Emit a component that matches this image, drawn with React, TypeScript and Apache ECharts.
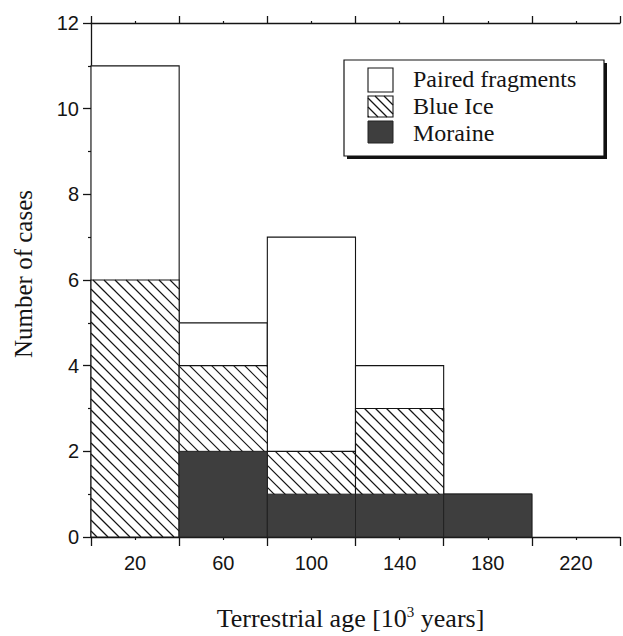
import React, { useEffect, useRef } from "react";
import * as echarts from "echarts";

// ---- data ----
const binStarts = [0, 40, 80, 120, 160, 200];
const binWidth = 40;
const pairedFragments = [11, 5, 7, 4, 1, 0];
const blueIce = [6, 4, 2, 3, 0, 0];
const moraine = [0, 2, 1, 1, 1, 0];
const xLabelValues = [20, 60, 100, 140, 180, 220];
const legendNames = ["Paired fragments", "Blue Ice", "Moraine"];

const SANS = '"Liberation Sans", Arial, Helvetica, sans-serif';
const SERIF = '"Liberation Serif", "Times New Roman", Times, serif';
const INK = "#141414";
const MORAINE_FILL = "#3e3e3e";
const HATCH_SLOPE = 1;

function toBins(values: number[]) {
  return binStarts.map((s, i) => [s, s + binWidth, values[i]]);
}

function hatchLines(xa: number, xb: number, ya: number, yb: number, spacing: number, lw: number) {
  const out: any[] = [];
  const m = HATCH_SLOPE;
  const cMin = ya - m * xb;
  const cMax = yb - m * xa;
  const k0 = Math.ceil(cMin / spacing);
  const k1 = Math.floor(cMax / spacing);
  for (let k = k0; k <= k1; k++) {
    const c = k * spacing;
    const xs = Math.max(xa, (ya - c) / m);
    const xe = Math.min(xb, (yb - c) / m);
    if (xe - xs > 0.5) {
      out.push({
        type: "line",
        shape: { x1: xs, y1: m * xs + c, x2: xe, y2: m * xe + c },
        style: { stroke: INK, lineWidth: lw },
        silent: true,
      });
    }
  }
  return out;
}

function rectOf(api: any) {
  const p0 = api.coord([api.value(0), 0]);
  const p1 = api.coord([api.value(1), api.value(2)]);
  return { x: p0[0], y: p1[1], width: p1[0] - p0[0], height: p0[1] - p1[1] };
}

function makeRender(kind: "plain" | "hatch" | "dark") {
  return (params: any, api: any) => {
    if (!(api.value(2) > 0)) return null;
    const r = rectOf(api);
    const children: any[] = [];
    if (kind === "plain") {
      children.push({ type: "rect", shape: r, style: { fill: "#fff", stroke: INK, lineWidth: 1.1 } });
    } else if (kind === "hatch") {
      children.push({ type: "rect", shape: r, style: { fill: "#fff", stroke: "none" } });
      children.push(...hatchLines(r.x, r.x + r.width, r.y, r.y + r.height, 11, 1.2));
      children.push({ type: "rect", shape: r, style: { fill: "none", stroke: INK, lineWidth: 1.1 } });
    } else {
      children.push({ type: "rect", shape: r, style: { fill: MORAINE_FILL, stroke: "#222", lineWidth: 1 } });
    }
    return { type: "group", children };
  };
}

function legendGraphic() {
  const bx = 344, by = 60, bw = 260, bh = 96;
  const ix = 368, iw = 25;
  const rows = [
    { y: 68, h: 24, cy: 79 },
    { y: 96, h: 21, cy: 106 },
    { y: 121, h: 22, cy: 133 },
  ];
  const els: any[] = [
    { type: "rect", shape: { x: bx + 3, y: by + 3, width: bw, height: bh }, style: { fill: "#111" } },
    { type: "rect", shape: { x: bx, y: by, width: bw, height: bh }, style: { fill: "#fff", stroke: INK, lineWidth: 1.2 } },
    { type: "rect", shape: { x: ix, y: rows[0].y, width: iw, height: rows[0].h }, style: { fill: "#fff", stroke: INK, lineWidth: 1.1 } },
    { type: "rect", shape: { x: ix, y: rows[1].y, width: iw, height: rows[1].h }, style: { fill: "#fff", stroke: "none" } },
    ...hatchLines(ix, ix + iw, rows[1].y, rows[1].y + rows[1].h, 9, 1.2),
    { type: "rect", shape: { x: ix, y: rows[1].y, width: iw, height: rows[1].h }, style: { fill: "none", stroke: INK, lineWidth: 1.1 } },
    { type: "rect", shape: { x: ix, y: rows[2].y, width: iw, height: rows[2].h }, style: { fill: MORAINE_FILL, stroke: "#222", lineWidth: 1 } },
  ];
  legendNames.forEach((name, i) => {
    els.push({
      type: "text",
      x: 413,
      y: rows[i].cy,
      style: {
        text: name,
        fontSize: 24,
        lineHeight: 24,
        fontFamily: SERIF,
        fill: INK,
        textAlign: "left",
        textVerticalAlign: "middle",
        verticalAlign: "middle",
      },
    });
  });
  return els;
}

export default function App() {
  const ref = useRef<HTMLDivElement>(null);
  useEffect(() => {
    if (!ref.current) return;
    const chart = echarts.init(ref.current, null, { renderer: "svg" });
    const axisLineStyle = { color: INK, width: 1.3 };
    const option: any = {
      animation: false,
      backgroundColor: "#fff",
      grid: { left: 91, right: 0, top: 23, bottom: 92, containLabel: false },
      xAxis: [
        {
          type: "value",
          min: 0,
          max: 240,
          interval: 40,
          position: "bottom",
          axisLine: { show: true, onZero: false, lineStyle: axisLineStyle },
          axisTick: { show: true, inside: false, length: 9, lineStyle: axisLineStyle },
          minorTick: { show: true, splitNumber: 2, length: 3, lineStyle: { color: INK, width: 1.2 } },
          axisLabel: { show: false },
          splitLine: { show: false },
          name: "{a|Terrestrial age [10}{s|3}{a| years]}",
          nameLocation: "middle",
          nameGap: 67,
          nameTextStyle: {
            padding: [0, 10, 0, 0],
            rich: {
              a: { fontSize: 26, fontFamily: SERIF, color: INK, lineHeight: 28 },
              s: { fontSize: 15, fontFamily: SERIF, color: INK, verticalAlign: "top", lineHeight: 15 },
            },
          },
        },
        {
          type: "value",
          min: 0,
          max: 240,
          interval: 20,
          position: "bottom",
          axisLine: { show: false },
          axisTick: { show: false },
          axisLabel: {
            show: true,
            margin: 16,
            fontSize: 20,
            fontFamily: SANS,
            color: INK,
            formatter: (v: number) => (xLabelValues.indexOf(v) >= 0 ? String(v) : ""),
          },
          splitLine: { show: false },
        },
        {
          type: "value",
          min: 0,
          max: 240,
          interval: 40,
          position: "top",
          axisLine: { show: true, onZero: false, lineStyle: axisLineStyle },
          axisTick: { show: true, inside: false, length: 7, lineStyle: axisLineStyle },
          minorTick: { show: true, splitNumber: 2, length: 2, lineStyle: { color: INK, width: 1.2 } },
          axisLabel: { show: false },
          splitLine: { show: false },
        },
      ],
      yAxis: {
        type: "value",
        min: 0,
        max: 12,
        interval: 2,
        axisLine: { show: true, onZero: false, lineStyle: axisLineStyle },
        axisTick: { show: true, inside: false, length: 8, lineStyle: axisLineStyle },
        minorTick: { show: true, splitNumber: 2, length: 3, lineStyle: { color: INK, width: 1.2 } },
        axisLabel: { margin: 12, fontSize: 20, fontFamily: SANS, color: INK },
        splitLine: { show: false },
        name: "Number of cases",
        nameLocation: "middle",
        nameGap: 55,
        nameTextStyle: { fontSize: 25, fontFamily: SERIF, color: INK, padding: [0, 0, 0, 12] },
      },
      series: [
        {
          name: legendNames[0],
          type: "custom",
          xAxisIndex: 0,
          yAxisIndex: 0,
          renderItem: makeRender("plain"),
          encode: { x: [0, 1], y: 2 },
          data: toBins(pairedFragments),
          z: 2,
        },
        {
          name: legendNames[1],
          type: "custom",
          xAxisIndex: 0,
          yAxisIndex: 0,
          renderItem: makeRender("hatch"),
          encode: { x: [0, 1], y: 2 },
          data: toBins(blueIce),
          z: 3,
        },
        {
          name: legendNames[2],
          type: "custom",
          xAxisIndex: 0,
          yAxisIndex: 0,
          renderItem: makeRender("dark"),
          encode: { x: [0, 1], y: 2 },
          data: toBins(moraine),
          z: 4,
        },
      ],
      graphic: { elements: legendGraphic() },
    };
    chart.setOption(option);
    return () => chart.dispose();
  }, []);
  return (
    <div
      ref={ref}
      style={{ position: "fixed", left: 0, top: 0, width: 623, height: 636, background: "#fff" }}
    />
  );
}
